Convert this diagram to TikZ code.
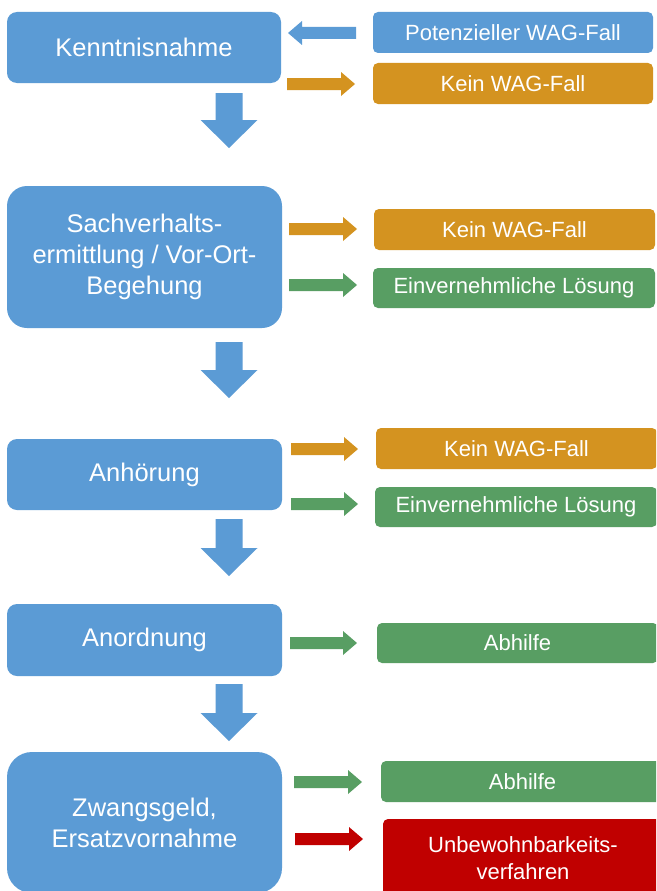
\documentclass[tikz,border=0pt]{standalone}
\usepackage{fontspec}
\setmainfont{Liberation Sans}
\usetikzlibrary{calc}
\definecolor{bblue}{RGB}{91,155,213}
\definecolor{borange}{RGB}{212,147,32}
\definecolor{bgreen}{RGB}{88,158,99}
\definecolor{bred}{RGB}{192,0,0}
% horizontal block arrow: colour, tail, tip
\newcommand\hblock[3]{%
  \fill[#1] let \p1=(#2), \p2=(#3), \n1={sign(\x2-\x1)} in
    (\x1,\y1+6pt) -- (\x2-\n1*14pt,\y1+6pt) -- (\x2-\n1*14pt,\y1+12pt) --
    (\x2,\y1) -- (\x2-\n1*14pt,\y1-12pt) -- (\x2-\n1*14pt,\y1-6pt) --
    (\x1,\y1-6pt) -- cycle;}
% vertical (downward) block arrow: colour, tail, tip
\newcommand\vblock[3]{%
  \fill[#1] let \p1=(#2), \p2=(#3) in
    (\x1-13.5pt,\y1) -- (\x1-13.5pt,\y2+28pt) -- (\x1-28.5pt,\y2+28pt) --
    (\x2,\y2) -- (\x1+28.5pt,\y2+28pt) -- (\x1+13.5pt,\y2+28pt) --
    (\x1+13.5pt,\y1) -- cycle;}
\begin{document}
\begin{tikzpicture}[x=1pt,y=-1pt,
  mainbox/.style={fill=bblue, text=white, align=center, inner sep=0pt,
    font=\fontsize{25.5}{31}\selectfont},
  sidebox/.style={text=white, align=center, inner sep=0pt, rounded corners=5pt,
    font=\fontsize{22}{27}\selectfont},
]
\clip (0,0) rectangle (656,891);
\fill[white] (0,0) rectangle (656,891);

% main steps
\node[mainbox, rounded corners=10pt, minimum width=274pt, minimum height=71pt] (k1) at (144,47.5) {Kenntnisnahme};
\node[mainbox, rounded corners=20pt, minimum width=275pt, minimum height=142pt] (k2) at (144.5,257) {Sachverhalts-\\ermittlung / Vor-Ort-\\Begehung};
\node[mainbox, rounded corners=10pt, minimum width=275pt, minimum height=71pt] (k3) at (144.5,474.5) {Anhörung};
\node[mainbox, rounded corners=10pt, minimum width=275pt, minimum height=72pt] (k4) at (144.5,640) {Anordnung};
\node[mainbox, rounded corners=25pt, minimum width=275pt, minimum height=141pt] (k5) at (144.5,822.5) {Zwangsgeld,\\Ersatzvornahme};

% outcomes
\node[sidebox, fill=bblue, minimum width=280pt, minimum height=41pt] (P) at (513,32.5) {Potenzieller WAG-Fall};
\node[sidebox, fill=borange, minimum width=280pt, minimum height=41pt] (K1) at (513,83.5) {Kein WAG-Fall};
\node[sidebox, fill=borange, minimum width=281pt, minimum height=41pt] (K2) at (514.5,229.5) {Kein WAG-Fall};
\node[sidebox, fill=bgreen, minimum width=282pt, minimum height=40pt] (E1) at (514,288) {Einvernehmliche Lösung};
\node[sidebox, fill=borange, minimum width=281pt, minimum height=41pt] (K3) at (516.5,448.5) {Kein WAG-Fall};
\node[sidebox, fill=bgreen, minimum width=282pt, minimum height=40pt] (E2) at (516,507) {Einvernehmliche Lösung};
\node[sidebox, fill=bgreen, minimum width=281pt, minimum height=40pt] (A1) at (517.5,643) {Abhilfe};
\node[sidebox, fill=bgreen, minimum width=283pt, minimum height=41pt] (A2) at (522.5,781.5) {Abhilfe};
\node[sidebox, fill=bred, minimum width=280pt, minimum height=79pt] (U) at (523,858.5) {Unbewohnbarkeits-\\verfahren};

% arrow end points
\coordinate (h1s) at (356,33);  \coordinate (h1e) at (288,33);
\coordinate (h2s) at (287,84);  \coordinate (h2e) at (355,84);
\coordinate (h3s) at (289,229); \coordinate (h3e) at (357,229);
\coordinate (h4s) at (289,285); \coordinate (h4e) at (357,285);
\coordinate (h5s) at (291,449); \coordinate (h5e) at (358,449);
\coordinate (h6s) at (291,504); \coordinate (h6e) at (358,504);
\coordinate (h7s) at (290,643); \coordinate (h7e) at (357,643);
\coordinate (h8s) at (294,782); \coordinate (h8e) at (362,782);
\coordinate (h9s) at (295,839); \coordinate (h9e) at (363,839);
\coordinate (v1s) at (229,93);  \coordinate (v1e) at (229,148);
\coordinate (v2s) at (229,342); \coordinate (v2e) at (229,398);
\coordinate (v3s) at (229,519); \coordinate (v3e) at (229,576);
\coordinate (v4s) at (229,684); \coordinate (v4e) at (229,741);

\hblock{bblue}{h1s}{h1e}
\hblock{borange}{h2s}{h2e}
\hblock{borange}{h3s}{h3e}
\hblock{bgreen}{h4s}{h4e}
\hblock{borange}{h5s}{h5e}
\hblock{bgreen}{h6s}{h6e}
\hblock{bgreen}{h7s}{h7e}
\hblock{bgreen}{h8s}{h8e}
\hblock{bred}{h9s}{h9e}
\vblock{bblue}{v1s}{v1e}
\vblock{bblue}{v2s}{v2e}
\vblock{bblue}{v3s}{v3e}
\vblock{bblue}{v4s}{v4e}
\end{tikzpicture}
\end{document}
